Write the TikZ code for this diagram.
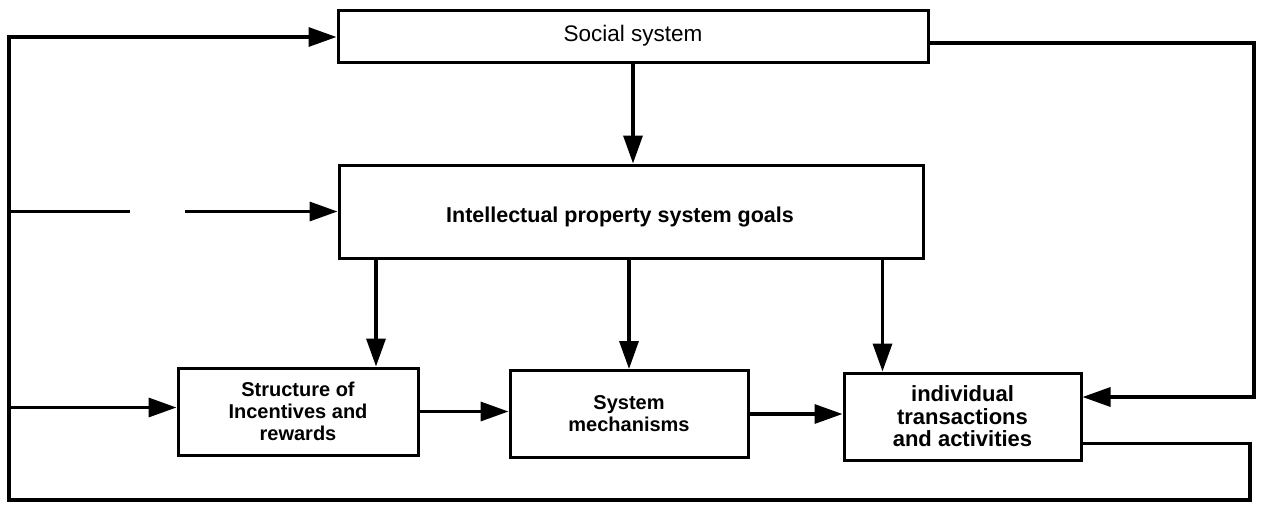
\documentclass[tikz,border=0pt]{standalone}
\usepackage{fontspec}
\setmainfont{Liberation Sans}
\usetikzlibrary{arrows.meta,calc}
\begin{document}
\begin{tikzpicture}[x=1pt,y=-1pt,
  box/.style={draw,line width=3pt,rectangle,inner sep=0pt,align=center},
  wire/.style={line width=3.4pt},
  arr/.style={wire,-{Triangle[length=28pt,width=19pt]}},
  smalltext/.style={font=\bfseries\fontsize{20}{22}\selectfont}]
\useasboundingbox (0,0) rectangle (1261,509);

% boxes
\node[box,minimum width=590pt,minimum height=52pt,font=\fontsize{22.5}{26}\selectfont]
  (social) at (633,36) {Social system};
\node[box,minimum width=584pt,minimum height=93pt]
  (goals) at (631,211.5) {};
\node[font=\bfseries\fontsize{21.5}{25}\selectfont,inner sep=0pt]
  (goalstext) at (620,217) {Intellectual property system goals};
\node[box,smalltext,minimum width=240pt,minimum height=87pt]
  (struct) at (298,411.5) {Structure of\\Incentives and\\rewards};
\node[box,smalltext,minimum width=238pt,minimum height=87pt]
  (mech) at (629,414) {System\\mechanisms};
\node[box,font=\bfseries\fontsize{22}{22.5}\selectfont,minimum width=237pt,minimum height=87pt]
  (indiv) at (962.5,416.5) {individual\\transactions\\and activities};

% loop coordinates
\coordinate (rt) at (1254,397);
\coordinate (br) at (1250,500);
\coordinate (bl) at (9,500);
\coordinate (sin) at ([yshift=4pt]struct.west);

% downward flows
\draw[arr] (social.south) -- (social.south |- goals.north);
\draw[arr] ([xshift=78pt]struct.north |- goals.south) -- ([xshift=78pt]struct.north);
\draw[arr] (mech.north |- goals.south) -- (mech.north);
\draw[arr] ([xshift=-80pt]indiv.north |- goals.south) -- ([xshift=-80pt]indiv.north);

% left to right along the bottom row
\draw[arr] (struct.east) -- (struct.east -| mech.west);
\draw[arr] (mech.east) -- (mech.east -| indiv.west);

% feedback from the social system to individual activity
\draw[arr] ([yshift=-7pt]social.east) -| (rt) -- (rt -| indiv.east);

% feedback from individual activity round the left side
\draw[arr] ([yshift=-27pt]indiv.east) -| (br) -- (bl) |- ([yshift=-1pt]social.west);
\draw[arr,dash pattern=on 121pt off 55pt on 600pt] (bl |- goals.west) -- (goals.west);
\draw[arr] (bl |- sin) -- (sin);
\end{tikzpicture}
\end{document}
